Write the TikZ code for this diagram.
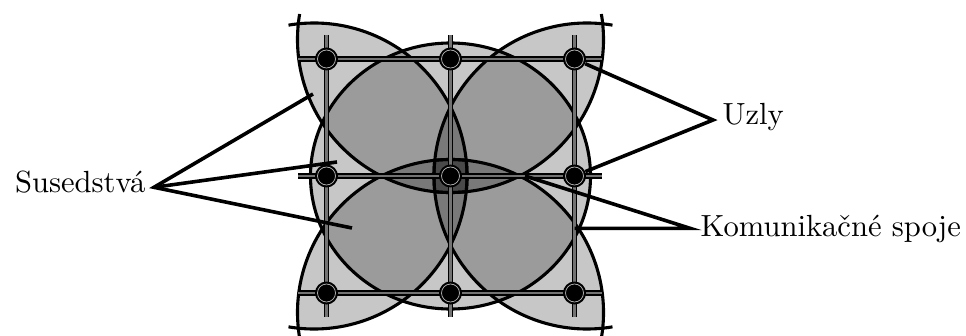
\documentclass[tikz,border=0pt]{standalone}
\usetikzlibrary{calc}
\begin{document}
\begin{tikzpicture}[x=1pt,y=1pt,
  arcline/.style={line width=3.1pt, line join=round},
  link/.style={draw=black, line width=1.6pt, double=black!55, double distance=2.2pt},
  knode/.style={circle, fill=black, minimum size=23pt, inner sep=0pt,
    path picture={\draw[gray!55, line width=0.7pt] (path picture bounding box.center) circle[radius=9pt];}},
  pointer/.style={line width=3.6pt, line join=miter},
  lbl/.style={inner sep=0pt, font=\fontsize{10}{12}\selectfont, scale=3.06, transform shape},
  layer/.style={fill=black, fill opacity=0.22}]
\useasboundingbox (0,0) rectangle (966,335);
\coordinate (O) at (450.5,159);

% neighbourhood fills
\fill[layer] (O) ellipse [x radius=140, y radius=133];
\foreach \r in {0,90,180,270}{
  \begin{scope}[shift={(O)}, rotate=\r]
    \fill[layer] (-152.2,152.2) arc[start angle=95.9, end angle=-5.9, radius=153]
      arc[start angle=-84.1, end angle=-185.9, radius=153] -- cycle;
  \end{scope}
}
% neighbourhood outlines
\draw[arcline] (O) ellipse [x radius=140, y radius=133];
\foreach \r in {0,90,180,270}{
  \begin{scope}[shift={(O)}, rotate=\r]
    \draw[arcline] (-152.2,152.2) arc[start angle=95.9, end angle=-5.9, radius=153]
      arc[start angle=-84.1, end angle=-185.9, radius=153] -- cycle;
    \draw[arcline] (-152.2,152.2) arc[start angle=95.9, end angle=99.6, radius=153];
    \draw[arcline] (-152.2,152.2) arc[start angle=174.1, end angle=170.4, radius=153];
  \end{scope}
}

% grid positions
\coordinate (c11) at (326.5,276); \coordinate (c12) at (450.5,276); \coordinate (c13) at (574.5,276);
\coordinate (c21) at (326.5,159); \coordinate (c22) at (450.5,159); \coordinate (c23) at (574.5,159);
\coordinate (c31) at (326.5,42);  \coordinate (c32) at (450.5,42);  \coordinate (c33) at (574.5,42);
% free ends of the links
\coordinate (hl1) at (298,276); \coordinate (hr1) at (602,276);
\coordinate (hl2) at (298,159); \coordinate (hr2) at (602,159);
\coordinate (hl3) at (298,42);  \coordinate (hr3) at (602,42);
\coordinate (vt1) at (326.5,300); \coordinate (vb1) at (326.5,18);
\coordinate (vt2) at (450.5,300); \coordinate (vb2) at (450.5,18);
\coordinate (vt3) at (574.5,300); \coordinate (vb3) at (574.5,18);

% links
\draw[link] (hl1) -- (c11) -- (c12) -- (c13) -- (hr1);
\draw[link] (hl2) -- (c21) -- (c22) -- (c23) -- (hr2);
\draw[link] (hl3) -- (c31) -- (c32) -- (c33) -- (hr3);
\draw[link] (vt1) -- (c11) -- (c21) -- (c31) -- (vb1);
\draw[link] (vt2) -- (c12) -- (c22) -- (c32) -- (vb2);
\draw[link] (vt3) -- (c13) -- (c23) -- (c33) -- (vb3);

% nodes
\node[knode] (n11) at (c11) {}; \node[knode] (n12) at (c12) {}; \node[knode] (n13) at (c13) {};
\node[knode] (n21) at (c21) {}; \node[knode] (n22) at (c22) {}; \node[knode] (n23) at (c23) {};
\node[knode] (n31) at (c31) {}; \node[knode] (n32) at (c32) {}; \node[knode] (n33) at (c33) {};

% labels
\node[lbl, anchor=base east] (sus) at (146,142) {Susedstvá};
\node[lbl, anchor=base west] (uzly) at (722,210) {Uzly};
\node[lbl, anchor=base west] (kom) at (700,98) {Komunikačné spoje};

% pointers
\coordinate (st) at (154,147.7);
\coordinate (s1) at (313,241);
\coordinate (s2) at (337,173);
\coordinate (s3) at (352,107);
\draw[pointer] (s1) -- (st) -- (s3);
\draw[pointer] (st) -- (s2);

\coordinate (ut) at (713,215);
\draw[pointer] (n13) -- (ut) -- (n23);

\coordinate (kt) at (690,106.7);
\coordinate (k1) at (574.5,106.7);
\coordinate (k2) at (525,159);
\draw[pointer] (k1) -- (kt) -- (k2);
\end{tikzpicture}
\end{document}
